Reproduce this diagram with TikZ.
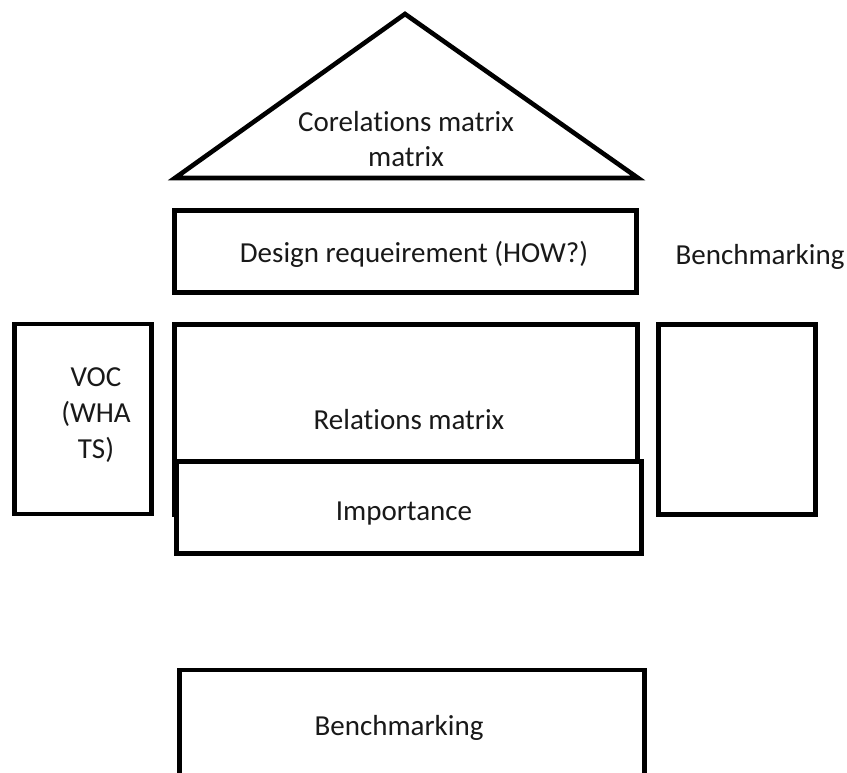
\documentclass[tikz,border=0pt]{standalone}
\usepackage{fontspec}
\setmainfont{Carlito}[Ligatures=NoCommon]
\usepackage{tikz}
\usetikzlibrary{positioning,calc}
\tikzset{
  hqline/.style={line width=4.6pt, line join=miter, black},
  hqbox/.style={draw, hqline, fill=white, inner sep=0pt, outer sep=0pt},
  hqtext/.style={font=\fontsize{29}{35}\selectfont, align=center, inner sep=0pt, text=black!90}
}

\begin{document}
\begin{tikzpicture}[x=1pt, y=-1pt]
  \clip (0,0) rectangle (847,773);
  \coordinate (apex) at (405,14);
  \coordinate (baseL) at (175,178);
  \coordinate (baseR) at (638,178);
  \draw[hqline] (baseL) -- (apex) -- (baseR) -- cycle;
  \node[hqtext] (corr) at (406,139) {Corelations matrix\\matrix};
  \node[hqbox, minimum width=462pt, minimum height=82pt] (design) at (405.5,251.5) {};
  \node[hqtext, anchor=base] (designtxt) at (414,262) {Design requeirement (HOW?)};
  \node[hqtext, anchor=base] (benchtop) at (760,265) {Benchmarking};
  \node[hqbox, minimum width=137pt, minimum height=190pt] (voc) at (83,419) {};
  \node[hqtext, font=\fontsize{29}{36}\selectfont] (voctxt) at (96,415) {VOC\\(WHA\\TS)};
  \node[hqbox, minimum width=463pt, minimum height=190pt] (rel) at (406,419.5) {};
  \node[hqtext, anchor=base] (reltxt) at (409,429) {Relations matrix};
  \node[hqbox, minimum width=465pt, minimum height=92pt] (imp) at (409,507.5) {};
  \node[hqtext, anchor=base] (imptxt) at (404,520) {Importance};
  \node[hqbox, minimum width=157pt, minimum height=190pt] (benchbox) at (737,419.5) {};
  \node[hqbox, minimum width=465pt, minimum height=140pt] (bench) at (412,740) {};
  \node[hqtext, anchor=base] (benchtxt) at (399,735) {Benchmarking};
\end{tikzpicture}
\end{document}
